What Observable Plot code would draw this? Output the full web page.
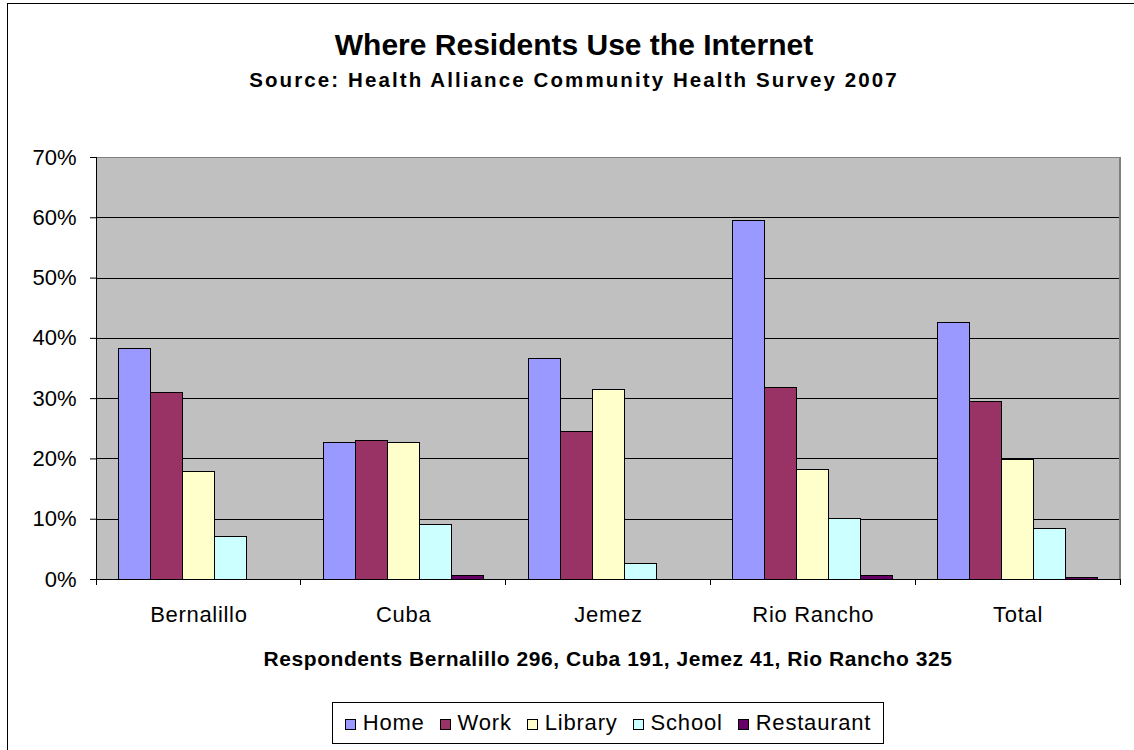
<!DOCTYPE html>
<html>
<head>
<meta charset="utf-8">
<script src="https://cdn.jsdelivr.net/npm/d3@7"></script>
<script src="https://cdn.jsdelivr.net/npm/@observablehq/plot@0.6"></script>
<style>
  html, body { margin: 0; padding: 0; background: #fff; }
  #chart { position: relative; width: 1134px; height: 750px; overflow: hidden;
           font-family: "Liberation Sans", Arial, sans-serif; color: #000; }
  #border { position: absolute; left: 7px; top: 3px; width: 1200px; height: 800px;
            border-left: 1px solid #000; border-top: 1px solid #000; }
  .heading { position: absolute; left: 7px; width: 1134px; text-align: center;
             font-weight: bold; line-height: 1; white-space: nowrap; }
  #title { top: 29.6px; font-size: 30px; }
  #subtitle { top: 69.6px; font-size: 20.5px; letter-spacing: 2.1px; }
  #plot { position: absolute; left: 0; top: 140px; }
  #plot svg { overflow: visible; }
  #plot [aria-label^="fx-axis"] text { letter-spacing: 0.7px; }
  #xtitle { position: absolute; top: 648px; left: 96px; width: 1024px; text-align: center;
            font-weight: bold; font-size: 21px; letter-spacing: 0.55px; line-height: 1; white-space: nowrap; }
  #legend { position: absolute; left: 332px; top: 702px; width: 552px; height: 42px;
            box-sizing: border-box; border: 1px solid #000; background: #fff;
            display: flex; justify-content: center; align-items: center;
            font-size: 22px; letter-spacing: 0.8px; line-height: 1; white-space: nowrap; }
  .item { margin-right: 15px; }
  .item:last-child { margin-right: 0; }
  .swatch { display: inline-block; width: 11px; height: 11px; box-sizing: border-box;
            border: 1px solid #000; margin-right: 7px; vertical-align: baseline; }
</style>
</head>
<body>
<div id="chart">
  <div id="border"></div>
  <div id="title" class="heading">Where Residents Use the Internet</div>
  <div id="subtitle" class="heading">Source: Health Alliance Community Health Survey 2007</div>
  <div id="plot"></div>
  <div id="xtitle">Respondents Bernalillo 296, Cuba 191, Jemez 41, Rio Rancho 325</div>
  <div id="legend"></div>
</div>
<script>
// Share of residents (%) using the internet at each place, by community
const categories = ["Bernalillo", "Cuba", "Jemez", "Rio Rancho", "Total"];
const series = ["Home", "Work", "Library", "School", "Restaurant"];
const home       = [38.2, 22.6, 36.5, 59.5, 42.6];
const work       = [30.9, 22.9, 24.5, 31.8, 29.4];
const library    = [17.9, 22.6, 31.5, 18.2, 19.8];
const school     = [7.0, 9.0, 2.5, 10.0, 8.4];
const restaurant = [0, 0.6, 0, 0.6, 0.3];
const seriesColors = ["#9999FF", "#993366", "#FFFFCC", "#CCFFFF", "#660066"];
const yTicks = [0, 10, 20, 30, 40, 50, 60, 70];

const values = [home, work, library, school, restaurant];
const rows = categories.flatMap((category, i) =>
  series.map((s, j) => ({category, series: s, value: values[j][i]}))
);

const chart = Plot.plot({
  width: 1134,
  height: 500,
  marginLeft: 96,
  marginRight: 14,
  marginTop: 17,
  marginBottom: 61,
  style: {
    fontFamily: '"Liberation Sans", Arial, sans-serif',
    fontSize: "22px",
    color: "#000",
    background: "transparent"
  },
  facet: {data: rows, x: "category"},
  fx: {domain: categories, padding: 0, round: false, axis: "bottom",
       tickSize: 0, tickPadding: 27, label: null},
  x: {domain: series, paddingInner: 0, paddingOuter: 0.7, round: false, axis: null},
  y: {domain: [0, 70], ticks: yTicks, tickFormat: d => d + "%",
      tickSize: 6, tickPadding: 14, label: null},
  color: {domain: series, range: seriesColors},
  marks: [
    Plot.frame({fill: "#C0C0C0", stroke: "none", shapeRendering: "crispEdges"}),
    Plot.ruleY(yTicks.slice(1, -1), {stroke: "#000", strokeWidth: 1, shapeRendering: "crispEdges"}),
    Plot.ruleY([70], {stroke: "#808080", strokeWidth: 1.5, shapeRendering: "crispEdges"}),
    Plot.barY(rows, {x: "series", y: "value", fill: "series", stroke: "#000",
                     strokeWidth: 1, shapeRendering: "crispEdges"}),
    Plot.ruleY([0], {stroke: "#000", strokeWidth: 1, shapeRendering: "crispEdges"})
  ]
});

document.getElementById("plot").append(chart);

// Plot-area edges and category separator ticks, placed with the chart's own scales
const fx = chart.scale("fx");
const y = chart.scale("y");
const [x0, x1] = fx.range;
const [yBottom, yTop] = y.range;
const step = (x1 - x0) / fx.domain.length;
const svg = d3.select(chart);
const edges = svg.append("g").attr("shape-rendering", "crispEdges");
edges.append("line")
  .attr("x1", x0).attr("x2", x0).attr("y1", yTop).attr("y2", yBottom)
  .attr("stroke", "#000");
edges.append("line")
  .attr("x1", x1).attr("x2", x1).attr("y1", yTop).attr("y2", yBottom)
  .attr("stroke", "#808080").attr("stroke-width", 1.5);
edges.selectAll(".sep")
  .data(d3.range(fx.domain.length + 1))
  .join("line")
  .attr("x1", i => x0 + i * step).attr("x2", i => x0 + i * step)
  .attr("y1", yBottom).attr("y2", yBottom + 6)
  .attr("stroke", "#000");

// Legend built from the chart's color scale
const color = chart.scale("color");
const legend = d3.select("#legend");
const items = legend.selectAll(".item").data(color.domain).join("span").attr("class", "item");
items.append("span").attr("class", "swatch")
  .style("background", (d, i) => color.range[i]);
items.append("span").text(d => d);
</script>
</body>
</html>
